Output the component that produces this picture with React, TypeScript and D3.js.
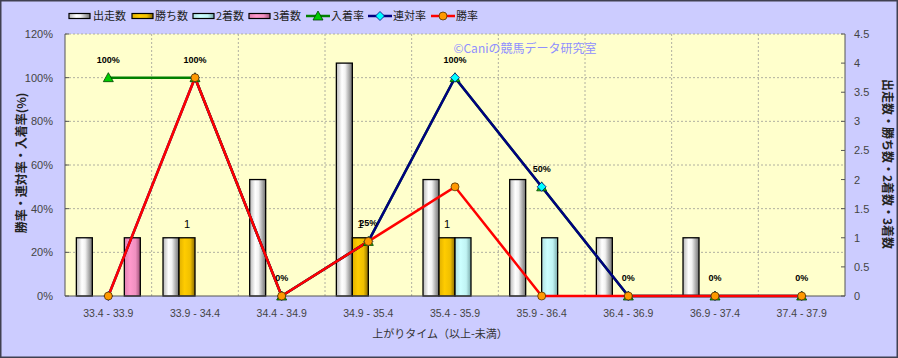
import React from "react";
import * as d3 from "d3";

const categories = ["33.4 - 33.9", "33.9 - 34.4", "34.4 - 34.9", "34.9 - 35.4", "35.4 - 35.9", "35.9 - 36.4", "36.4 - 36.9", "36.9 - 37.4", "37.4 - 37.9"];
const starts = [1, 1, 2, 4, 2, 2, 1, 1, 0];
const wins = [0, 1, 0, 1, 1, 0, 0, 0, 0];
const seconds = [0, 0, 0, 0, 1, 1, 0, 0, 0];
const thirds = [1, 0, 0, 0, 0, 0, 0, 0, 0];
const placeRate = [100, 100, 0, 25, 100, 50, 0, 0, 0];
const rentaiRate = [0, 100, 0, 25, 100, 50, 0, 0, 0];
const winRate = [0, 100, 0, 25, 50, 0, 0, 0, 0];
const leftTicks = [0, 20, 40, 60, 80, 100, 120];
const rightTicks = [0, 0.5, 1, 1.5, 2, 2.5, 3, 3.5, 4, 4.5];

const W = 898, H = 358;
const L = 65, R = 845, T = 34, B = 296;
const FONT = "'Liberation Sans', Arial, 'Noto Sans CJK JP', sans-serif";
const JFONT = "'Noto Sans CJK JP', 'Liberation Sans', sans-serif";

const barSeries = [
  { key: "出走数", values: starts, grad: "gWhite" },
  { key: "勝ち数", values: wins, grad: "gGold" },
  { key: "2着数", values: seconds, grad: "gCyan" },
  { key: "3着数", values: thirds, grad: "gPink" },
];
const lineSeries = [
  { key: "入着率", values: placeRate, color: "#008000", marker: "tri", fill: "#00CC00" },
  { key: "連対率", values: rentaiRate, color: "#000080", marker: "dia", fill: "#00FFFF" },
  { key: "勝率", values: winRate, color: "#FF0000", marker: "circ", fill: "#FF9900" },
];

function Marker({ type, x, y, fill }: { type: string; x: number; y: number; fill: string }) {
  if (type === "tri") {
    return <path d={`M${x},${y - 5}L${x + 5},${y + 4}L${x - 5},${y + 4}Z`} fill={fill} stroke="#004000" strokeWidth={0.8} />;
  }
  if (type === "dia") {
    return <path d={`M${x},${y - 4.5}L${x + 4.5},${y}L${x},${y + 4.5}L${x - 4.5},${y}Z`} fill={fill} stroke="#000080" strokeWidth={0.8} />;
  }
  return <circle cx={x} cy={y} r={4} fill={fill} stroke="#553300" strokeWidth={0.8} />;
}

export default function App() {
  const x = d3.scaleBand<string>().domain(categories).range([L, R]).padding(0);
  const bw = x.bandwidth();
  const xs = d3.scaleBand<string>().domain(barSeries.map((s) => s.key)).range([bw * 0.131, bw * 0.869]);
  const yL = d3.scaleLinear().domain([0, 120]).range([B, T]);
  const yR = d3.scaleLinear().domain([0, 4.5]).range([B, T]);
  const cx = (c: string) => (x(c) as number) + bw / 2;

  const legendItems = [
    { type: "bar", grad: "gWhite", label: "出走数", x: 69, tx: 93 },
    { type: "bar", grad: "gGold", label: "勝ち数", x: 132, tx: 155 },
    { type: "bar", grad: "gCyan", label: "2着数", x: 193, tx: 216 },
    { type: "bar", grad: "gPink", label: "3着数", x: 249, tx: 273 },
    { type: "line", s: lineSeries[0], label: "入着率", x: 306, tx: 331 },
    { type: "line", s: lineSeries[1], label: "連対率", x: 368, tx: 393 },
    { type: "line", s: lineSeries[2], label: "勝率", x: 431, tx: 456 },
  ];

  return (
    <svg width={W} height={H} style={{ position: "absolute", left: 0, top: 0, display: "block" }}>
      <defs>
        <linearGradient id="gWhite" x1="0" x2="1" y1="0" y2="0">
          <stop offset="0" stopColor="#b8b8b8" />
          <stop offset="0.35" stopColor="#ffffff" />
          <stop offset="0.55" stopColor="#f2f2f2" />
          <stop offset="1" stopColor="#707070" />
        </linearGradient>
        <linearGradient id="gGold" x1="0" x2="1" y1="0" y2="0">
          <stop offset="0" stopColor="#e0b000" />
          <stop offset="0.35" stopColor="#ffcc00" />
          <stop offset="0.7" stopColor="#f0c000" />
          <stop offset="1" stopColor="#8a6a00" />
        </linearGradient>
        <linearGradient id="gCyan" x1="0" x2="1" y1="0" y2="0">
          <stop offset="0" stopColor="#b0e0e0" />
          <stop offset="0.35" stopColor="#ccffff" />
          <stop offset="0.7" stopColor="#c0f4f4" />
          <stop offset="1" stopColor="#78a8a8" />
        </linearGradient>
        <linearGradient id="gPink" x1="0" x2="1" y1="0" y2="0">
          <stop offset="0" stopColor="#e080b0" />
          <stop offset="0.35" stopColor="#ff99cc" />
          <stop offset="0.7" stopColor="#f090c0" />
          <stop offset="1" stopColor="#a05078" />
        </linearGradient>
      </defs>
      <rect x={0} y={0} width={W} height={H} fill="#CCCCFF" />
      <rect x={0.75} y={0.75} width={W - 1.5} height={H - 1.5} fill="none" stroke="#404050" strokeWidth={1.5} />

      {/* legend */}
      {legendItems.map((it, i) => (
        <g key={i}>
          {it.type === "bar" ? (
            <rect x={it.x} y={13.5} width={21} height={5} fill={`url(#${it.grad})`} stroke="#000" strokeWidth={1.2} />
          ) : (
            <g>
              <line x1={it.x} x2={it.x + 24} y1={16} y2={16} stroke={(it as any).s.color} strokeWidth={2.5} />
              <Marker type={(it as any).s.marker} x={it.x + 12} y={16} fill={(it as any).s.fill} />
            </g>
          )}
          <text x={it.tx} y={20} fontSize={11} fontFamily={JFONT} fill="#222">{it.label}</text>
        </g>
      ))}

      {/* plot area */}
      <rect x={L} y={T} width={R - L} height={B - T} fill="#FFFFCC" />
      {leftTicks.slice(1).map((t) => (
        <line key={t} x1={L} x2={R} y1={yL(t)} y2={yL(t)} stroke="#b0b0a0" strokeWidth={1} strokeDasharray="2,2" />
      ))}
      {categories.slice(1).map((c) => (
        <line key={c} x1={x(c) as number} x2={x(c) as number} y1={T} y2={B} stroke="#b0b0a0" strokeWidth={1} strokeDasharray="2,2" />
      ))}
      <text x={525} y={53} fontSize={12} fontFamily={JFONT} fill="#8f8fff" textAnchor="middle">©Caniの競馬データ研究室</text>

      {/* bars */}
      {barSeries.map((s) =>
        categories.map((c, i) => {
          const v = s.values[i];
          if (!v) return null;
          const bx = (x(c) as number) + (xs(s.key) as number);
          const w = xs.bandwidth();
          return (
            <rect key={s.key + c} x={bx} y={yR(v)} width={w} height={B - yR(v)} fill={`url(#${s.grad})`} stroke="#000" strokeWidth={1.3} />
          );
        })
      )}

      {/* axes */}
      <line x1={L} x2={L} y1={T} y2={B} stroke="#555" strokeWidth={1} />
      <line x1={R} x2={R} y1={T} y2={B} stroke="#555" strokeWidth={1} />
      <line x1={L} x2={R} y1={B} y2={B} stroke="#555" strokeWidth={1} />
      {leftTicks.map((t) => (
        <g key={t}>
          <line x1={L} x2={L + 4} y1={yL(t)} y2={yL(t)} stroke="#555" />
          <text x={53} y={yL(t) + 4} fontSize={11} fontFamily={FONT} fill="#444" textAnchor="end">{t}%</text>
        </g>
      ))}
      {rightTicks.map((t) => (
        <g key={t}>
          <line x1={R - 4} x2={R} y1={yR(t)} y2={yR(t)} stroke="#555" />
          <text x={854} y={yR(t) + 4} fontSize={11} fontFamily={FONT} fill="#444">{t}</text>
        </g>
      ))}
      {categories.map((c) => (
        <text key={c} x={cx(c)} y={317} fontSize={10.5} fontFamily={FONT} fill="#444" textAnchor="middle">{c}</text>
      ))}
      <text x={440} y={338} fontSize={11} fontFamily={JFONT} fill="#333" textAnchor="middle">上がりタイム（以上-未満）</text>
      <text transform={`translate(26,163) rotate(-90)`} fontSize={12} fontWeight="bold" fontFamily={JFONT} fill="#222" textAnchor="middle">勝率・連対率・入着率(%)</text>
      <text transform={`translate(883,164) rotate(90)`} fontSize={12} fontWeight="bold" fontFamily={JFONT} fill="#222" textAnchor="middle">出走数・勝ち数・2着数・3着数</text>

      {/* lines */}
      {lineSeries.map((s) => {
        const gen = d3.line<number>().x((_, i) => cx(categories[i])).y((v) => yL(v));
        return <path key={s.key} d={gen(s.values) || ""} fill="none" stroke={s.color} strokeWidth={2.5} />;
      })}
      {lineSeries.map((s) =>
        s.values.map((v, i) => <Marker key={s.key + i} type={s.marker} x={cx(categories[i])} y={yL(v)} fill={s.fill} />)
      )}

      {/* data labels */}
      {placeRate.map((v, i) => (
        <text key={"pl" + i} x={cx(categories[i])} y={yL(v) - 15} fontSize={9} fontWeight="bold" fontFamily={FONT} fill="#000" textAnchor="middle">{v}%</text>
      ))}
      {wins.map((v, i) => {
        if (!v) return null;
        const bx = (x(categories[i]) as number) + (xs("勝ち数") as number) + xs.bandwidth() / 2;
        return <text key={"w" + i} x={bx} y={yR(v) - 10} fontSize={11} fontFamily={FONT} fill="#000" textAnchor="middle">{v}</text>;
      })}
    </svg>
  );
}
